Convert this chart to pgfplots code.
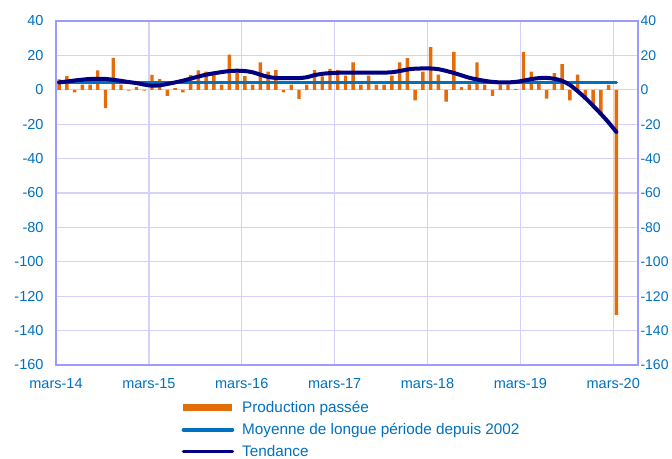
\documentclass[border=0pt]{standalone}
\usepackage{fontspec}
\setmainfont{Liberation Sans}
\usepackage{pgfplots}
\usepackage{pgfplotstable}
\pgfplotsset{compat=1.18}
\definecolor{barorange}{RGB}{228,108,10}
\definecolor{meanblue}{RGB}{0,112,192}
\definecolor{trendnavy}{RGB}{0,0,128}
\definecolor{labelblue}{RGB}{0,112,192}
\definecolor{framec}{RGB}{155,155,255}
\definecolor{gridc}{RGB}{210,210,252}

\pgfplotstableread{
k bar trend
0 6 4.3
1 8 4.8
2 -1.5 5.4
3 3 5.9
4 3 6.3
5 11.3 6.4
6 -10.7 6.3
7 18.5 5.8
8 3 5.2
9 -0.5 4.5
10 1.5 3.9
11 -0.5 3.0
12 8.7 2.4
13 6.2 2.6
14 -3.5 3.4
15 1 4.3
16 -1.5 5.3
17 8.7 6.5
18 11.3 7.7
19 10.5 8.8
20 8.5 9.6
21 3 10.3
22 20.4 10.9
23 10.2 11.1
24 7.9 10.9
25 3 10.2
26 16 8.8
27 10.6 7.5
28 11.5 6.9
29 -1.5 6.8
30 3 6.8
31 -5.3 6.8
32 3 7.3
33 11.5 8.5
34 7.8 9.3
35 12.2 9.7
36 11.5 9.9
37 8.2 10
38 16 10
39 3 10
40 8.2 10
41 3 10
42 3 10
43 8.2 10.2
44 16 10.9
45 18.4 11.8
46 -6.2 12.3
47 10.6 12.4
48 24.8 12.4
49 8.8 12
50 -6.9 11
51 22 9.8
52 1.6 8.4
53 3.2 7
54 16 6
55 3 5.2
56 -3.5 4.6
57 3 4.3
58 3 4.3
59 0.5 4.6
60 22 5.3
61 10.5 6.2
62 5 6.8
63 -5.2 6.9
64 9.7 6.4
65 15 5.2
66 -6.2 2.8
67 8.8 -0.8
68 -5.8 -4.8
69 -9.2 -9.3
70 -14.5 -14
71 2.8 -19
72 -130.8 -24.5
}\data

\begin{document}
\begin{tikzpicture}
\path[use as bounding box] (-56pt,-93pt) rectangle (616pt,365pt);
\begin{axis}[
  at={(0pt,0pt)}, anchor=south west,
  scale only axis, width=582pt, height=344pt,
  xmin=0, xmax=75.2, ymin=-160, ymax=40,
  ytick={-160,-140,...,40},
  xtick={0,12,...,72},
  xticklabels={mars-14,mars-15,mars-16,mars-17,mars-18,mars-19,mars-20},
  major tick length=0pt,
  grid=major, major grid style={gridc, line width=1.3pt},
  axis line style={framec, line width=2.6pt},
  ticklabel style={font=\fontsize{14.5}{16}\selectfont, text=labelblue},
  /pgf/number format/assume math mode=true,
  yticklabel style={xshift=-9pt},
  xticklabel style={yshift=-10pt},
  legend style={at={(axis description cs:0.2156,-0.1)}, anchor=north west,
    draw=none, fill=none, font=\fontsize{15.3}{17}\selectfont, text=labelblue,
    row sep=5pt, inner sep=0pt,
    /tikz/every odd column/.append style={column sep=6pt}},
  legend cell align=left,
]
\addplot[ybar, bar width=3.4pt, fill=barorange, draw=none,
  legend image code/.code={\fill[barorange] (0pt,-3.5pt) rectangle (49pt,3.5pt);}]
  table[x expr=\thisrow{k}+0.4, y=bar] {\data};
\addlegendentry{Production passée}
\addplot[meanblue, line width=3.5pt, line cap=round,
  legend image code/.code={\draw[meanblue, line width=3.5pt, line cap=round] (0pt,0pt) -- (49pt,0pt);}]
  coordinates {(0.4,4.2) (72.4,4.2)};
\addlegendentry{Moyenne de longue période depuis 2002}
\addplot[trendnavy, line width=4pt, smooth, line cap=round,
  legend image code/.code={\draw[trendnavy, line width=3.5pt, line cap=round] (0pt,0pt) -- (49pt,0pt);}]
  table[x expr=\thisrow{k}+0.4, y=trend] {\data};
\addlegendentry{Tendance}
\end{axis}
\begin{axis}[
  at={(0pt,0pt)}, anchor=south west,
  scale only axis, width=582pt, height=344pt,
  xmin=0, xmax=75.2, ymin=-160, ymax=40,
  ytick={-160,-140,...,40},
  axis x line=none, axis y line*=right,
  major tick length=0pt,
  axis line style={framec, line width=2.6pt},
  ticklabel style={font=\fontsize{14}{16}\selectfont, text=labelblue},
  /pgf/number format/assume math mode=true,
  yticklabel style={xshift=-1pt},
]
\addplot[draw=none] coordinates {(1,0)};
\end{axis}
\end{tikzpicture}
\end{document}
